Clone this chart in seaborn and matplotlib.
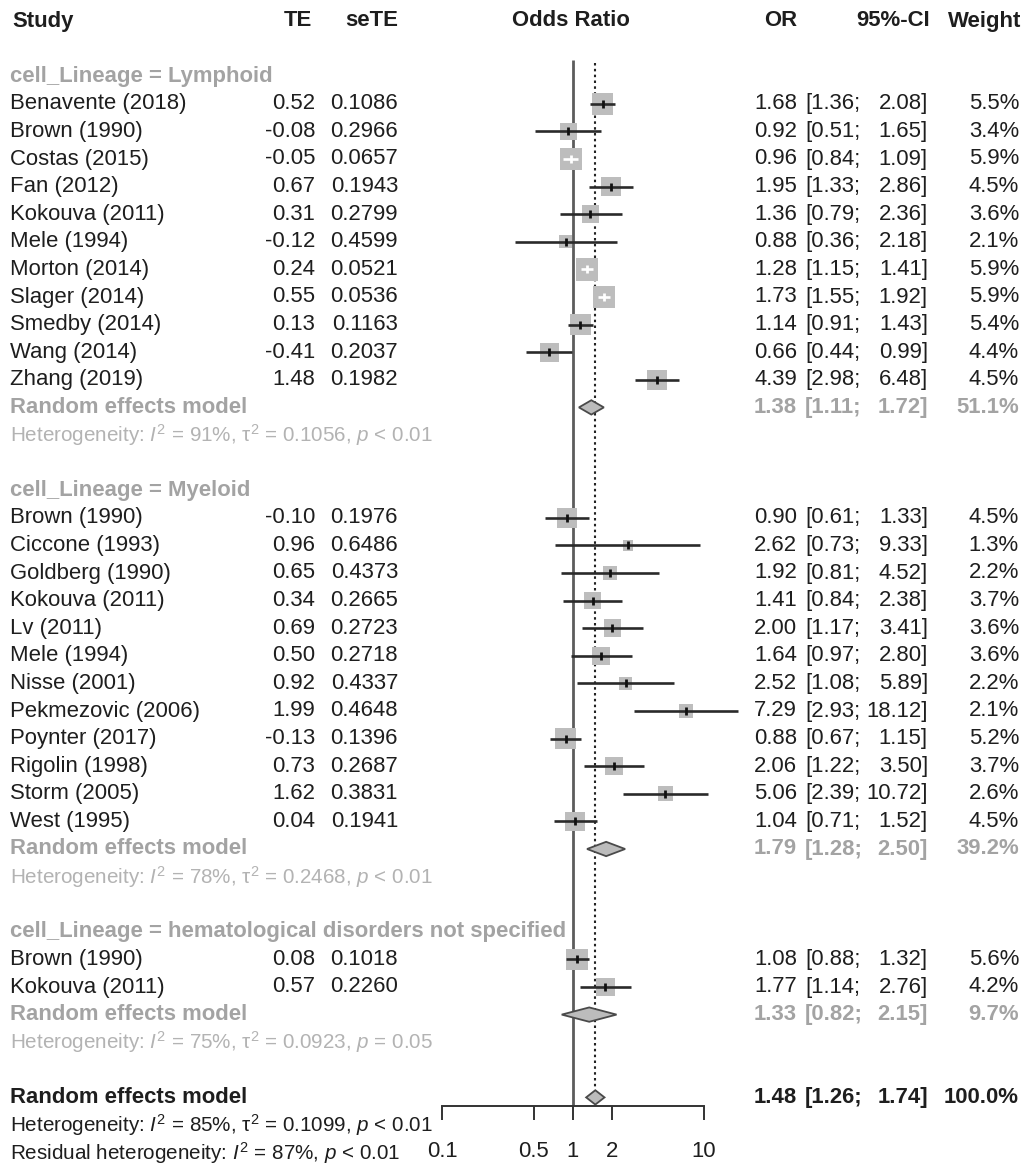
import numpy as np
import pandas as pd
import matplotlib
matplotlib.use("Agg")
import matplotlib.pyplot as plt
import matplotlib.transforms as mtransforms
from matplotlib.ticker import NullLocator
import seaborn as sns

# ---------------- data ----------------
group_labels = ["cell_Lineage = Lymphoid",
                "cell_Lineage = Myeloid",
                "cell_Lineage = hematological disorders not specified"]

lym_study = ["Benavente (2018)", "Brown (1990)", "Costas (2015)", "Fan (2012)",
             "Kokouva (2011)", "Mele (1994)", "Morton (2014)", "Slager (2014)",
             "Smedby (2014)", "Wang (2014)", "Zhang (2019)"]
lym_te = ["0.52", "-0.08", "-0.05", "0.67", "0.31", "-0.12", "0.24", "0.55", "0.13", "-0.41", "1.48"]
lym_sete = ["0.1086", "0.2966", "0.0657", "0.1943", "0.2799", "0.4599", "0.0521",
            "0.0536", "0.1163", "0.2037", "0.1982"]
lym_or = [1.68, 0.92, 0.96, 1.95, 1.36, 0.88, 1.28, 1.73, 1.14, 0.66, 4.39]
lym_lo = [1.36, 0.51, 0.84, 1.33, 0.79, 0.36, 1.15, 1.55, 0.91, 0.44, 2.98]
lym_hi = [2.08, 1.65, 1.09, 2.86, 2.36, 2.18, 1.41, 1.92, 1.43, 0.99, 6.48]
lym_w = [5.5, 3.4, 5.9, 4.5, 3.6, 2.1, 5.9, 5.9, 5.4, 4.4, 4.5]

mye_study = ["Brown (1990)", "Ciccone (1993)", "Goldberg (1990)", "Kokouva (2011)",
             "Lv (2011)", "Mele (1994)", "Nisse (2001)", "Pekmezovic (2006)",
             "Poynter (2017)", "Rigolin (1998)", "Storm (2005)", "West (1995)"]
mye_te = ["-0.10", "0.96", "0.65", "0.34", "0.69", "0.50", "0.92", "1.99", "-0.13", "0.73", "1.62", "0.04"]
mye_sete = ["0.1976", "0.6486", "0.4373", "0.2665", "0.2723", "0.2718", "0.4337",
            "0.4648", "0.1396", "0.2687", "0.3831", "0.1941"]
mye_or = [0.90, 2.62, 1.92, 1.41, 2.00, 1.64, 2.52, 7.29, 0.88, 2.06, 5.06, 1.04]
mye_lo = [0.61, 0.73, 0.81, 0.84, 1.17, 0.97, 1.08, 2.93, 0.67, 1.22, 2.39, 0.71]
mye_hi = [1.33, 9.33, 4.52, 2.38, 3.41, 2.80, 5.89, 18.12, 1.15, 3.50, 10.72, 1.52]
mye_w = [4.5, 1.3, 2.2, 3.7, 3.6, 3.6, 2.2, 2.1, 5.2, 3.7, 2.6, 4.5]

hem_study = ["Brown (1990)", "Kokouva (2011)"]
hem_te = ["0.08", "0.57"]
hem_sete = ["0.1018", "0.2260"]
hem_or = [1.08, 1.77]
hem_lo = [0.88, 1.14]
hem_hi = [1.32, 2.76]
hem_w = [5.6, 4.2]

sub_or = [1.38, 1.79, 1.33]
sub_lo = [1.11, 1.28, 0.82]
sub_hi = [1.72, 2.50, 2.15]
sub_w = ["51.1%", "39.2%", "9.7%"]
sub_het = [r"Heterogeneity: $I^2$ = 91%, τ$^2$ = 0.1056, $p$ < 0.01",
           r"Heterogeneity: $I^2$ = 78%, τ$^2$ = 0.2468, $p$ < 0.01",
           r"Heterogeneity: $I^2$ = 75%, τ$^2$ = 0.0923, $p$ = 0.05"]

overall_or, overall_lo, overall_hi, overall_w = 1.48, 1.26, 1.74, "100.0%"
overall_het = r"Heterogeneity: $I^2$ = 85%, τ$^2$ = 0.1099, $p$ < 0.01"
resid_het = r"Residual heterogeneity: $I^2$ = 87%, $p$ < 0.01"

axis_ticks = [0.1, 0.5, 1, 2, 10]
axis_ticklabels = ["0.1", "0.5", "1", "2", "10"]

# ---------------- style ----------------
sns.set_theme(style="white")
plt.rcParams['font.family'] = ['Liberation Sans', 'DejaVu Sans']
plt.rcParams['mathtext.fontset'] = 'custom'
plt.rcParams['mathtext.rm'] = 'Liberation Sans'
plt.rcParams['mathtext.it'] = 'Liberation Sans:italic'
plt.rcParams['mathtext.bf'] = 'Liberation Sans:bold'

W, H = 1026, 1167
FS = 15.9
FS_HET = 14.9
BLACK = "#1e1e1e"
GRAY = "#a3a3a3"
GRAY_LIGHT = "#b3b3b3"
SQ = "#bdbdbd"
LINE = "#2a2a2a"

fig = plt.figure(figsize=(W / 100, H / 100), dpi=100)
fig.patch.set_facecolor("white")

# row grid: row k sits at y0 + k*dy pixels from the top
y0, dy = 21.0, 27.6
null_px, px_per_dec = 573.0, 131.0

ax = fig.add_axes([0, 0, 1, 1])
ax.set_xscale("log")
ax.set_xlim(10 ** (-null_px / px_per_dec), 10 ** ((W - null_px) / px_per_dec))
ax.set_ylim((H - y0) / dy, -y0 / dy)
ax.axis("off")

tr = mtransforms.blended_transform_factory(fig.transFigure, ax.transData)

# text column anchors (pixels)
X_NAME, X_TE, X_SE = 10, 315, 398
X_OR, X_CI_L, X_CI_R, X_W = 797, 805, 928, 1019


def put(xpx, row, s, ha="left", color=BLACK, weight="normal", size=FS):
    ax.text(xpx / W, row, s, transform=tr, ha=ha, va="center",
            color=color, fontweight=weight, fontsize=size)


def ci_text(row, lo, hi, color=BLACK, weight="normal"):
    put(X_CI_L, row, f"[{lo:.2f};", "left", color, weight)
    put(X_CI_R, row, f"{hi:.2f}]", "right", color, weight)


# header
put(12, 0, "Study", weight="bold")
put(312, 0, "TE", "right", weight="bold")
put(X_SE, 0, "seTE", "right", weight="bold")
put(571, 0, "Odds Ratio", "center", weight="bold")
put(X_OR, 0, "OR", "right", weight="bold")
put(930, 0, "95%-CI", "right", weight="bold")
put(1021, 0, "Weight", "right", weight="bold")

groups = [
    (lym_study, lym_te, lym_sete, lym_or, lym_lo, lym_hi, lym_w),
    (mye_study, mye_te, mye_sete, mye_or, mye_lo, mye_hi, mye_w),
    (hem_study, hem_te, hem_sete, hem_or, hem_lo, hem_hi, hem_w),
]

recs = []
summ = []
k = 2
for gi, (st, te, se, orv, lo, hi, w) in enumerate(groups):
    put(X_NAME, k, group_labels[gi], color=GRAY, weight="bold")
    for j in range(len(st)):
        r = k + 1 + j
        put(X_NAME, r, st[j])
        put(X_TE, r, te[j], "right")
        put(X_SE, r, se[j], "right")
        put(X_OR, r, f"{orv[j]:.2f}", "right")
        ci_text(r, lo[j], hi[j])
        put(X_W, r, f"{w[j]:.1f}%", "right")
        recs.append(dict(OR=orv[j], lo=lo[j], hi=hi[j], w=w[j], row=r))
    r = k + len(st) + 1
    put(X_NAME, r, "Random effects model", color=GRAY, weight="bold")
    put(X_OR, r, f"{sub_or[gi]:.2f}", "right", GRAY, "bold")
    ci_text(r, sub_lo[gi], sub_hi[gi], GRAY, "bold")
    put(X_W, r, sub_w[gi], "right", GRAY, "bold")
    summ.append((sub_or[gi], sub_lo[gi], sub_hi[gi], r))
    put(X_NAME, r + 1, sub_het[gi], color=GRAY_LIGHT, size=FS_HET)
    k = r + 3

# overall
put(X_NAME, k, "Random effects model", weight="bold")
put(X_OR, k, f"{overall_or:.2f}", "right", weight="bold")
ci_text(k, overall_lo, overall_hi, weight="bold")
put(X_W, k, overall_w, "right", weight="bold")
summ.append((overall_or, overall_lo, overall_hi, k))
put(X_NAME, k + 1, overall_het, size=FS_HET)
put(X_NAME, k + 2, resid_het, size=FS_HET)
overall_row = k

df = pd.DataFrame(recs)
# square side (px) grows with sqrt(weight); marker size in points^2
df["side_px"] = 9.2 * np.sqrt(df["w"])
df["s"] = (df["side_px"] * 72 / 100) ** 2
df["ci_px"] = px_per_dec * np.log10(df["hi"] / df["lo"])
df["inside"] = df["ci_px"] < df["side_px"]

axis_row = (1106 - y0) / dy
top_row = (60 - y0) / dy

# reference lines
ax.vlines(1, top_row, axis_row, color="#5c5c5c", lw=2.0, zorder=1)
ax.vlines(overall_or, top_row + 0.1, overall_row - 0.3, color="#222222",
          lw=1.5, linestyles=(0, (1.2, 1.6)), zorder=1)

# study squares
sns.scatterplot(data=df, x="OR", y="row", marker="s", s=df["s"].values,
                color=SQ, edgecolor="none", linewidth=0, ax=ax,
                legend=False, zorder=2)

out = df[~df["inside"]]
ins = df[df["inside"]]
ax.hlines(out["row"], out["lo"], out["hi"], color=LINE, lw=1.9, zorder=3)
ax.hlines(ins["row"], ins["lo"], ins["hi"], color="white", lw=1.9, zorder=3)
ax.scatter(out["OR"], out["row"], marker="|", s=30, color="#111111",
           linewidths=2, zorder=4)
ax.scatter(ins["OR"], ins["row"], marker="|", s=30, color="white",
           linewidths=2, zorder=4)

# summary diamonds
hh = 0.26
for est, lo, hi, r in summ:
    ax.fill([lo, est, hi, est], [r, r - hh, r, r + hh], facecolor="#bcbcbc",
            edgecolor="#4a4a4a", lw=1.3, zorder=3)

# x axis of the forest
ax2 = fig.add_axes([(null_px - px_per_dec) / W, (H - 1106) / H,
                    2 * px_per_dec / W, 0.0005])
ax2.set_xscale("log")
ax2.set_xlim(axis_ticks[0], axis_ticks[-1])
ax2.set_xticks(axis_ticks)
ax2.set_xticklabels(axis_ticklabels)
ax2.xaxis.set_minor_locator(NullLocator())
ax2.set_yticks([])
ax2.patch.set_alpha(0)
for sp in ["left", "right", "top"]:
    ax2.spines[sp].set_visible(False)
ax2.spines["bottom"].set_color("#333333")
ax2.spines["bottom"].set_linewidth(1.4)
ax2.tick_params(axis="x", direction="out", length=10, width=1.4,
                color="#333333", labelsize=FS, labelcolor=BLACK, pad=15,
                bottom=True)

fig.savefig("out.png", dpi=100, facecolor="white")
